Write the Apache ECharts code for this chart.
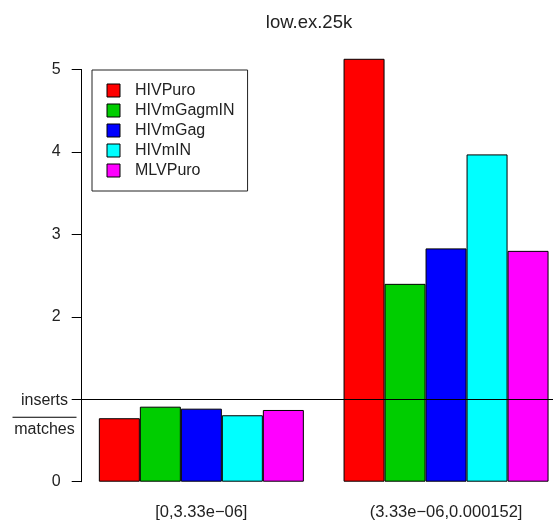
<!DOCTYPE html>
<html>
<head>
<meta charset="utf-8">
<script src="https://cdn.jsdelivr.net/npm/echarts@6/dist/echarts.min.js"></script>
<style>
  html, body { margin: 0; padding: 0; background: #fff; }
  #chart { width: 553px; height: 523px; }
</style>
</head>
<body>
<div id="chart"></div>
<script>
// Insert/match ratio per bin, one series per vector
const title = 'low.ex.25k';
const categories = ['[0,3.33e\u221206]', '(3.33e\u221206,0.000152]'];
const seriesNames = ['HIVPuro', 'HIVmGagmIN', 'HIVmGag', 'HIVmIN', 'MLVPuro'];
const seriesColors = ['#ff0000', '#00cd00', '#0000ff', '#00ffff', '#ff00ff'];
const HIVPuro    = [0.77, 5.13];
const HIVmGagmIN = [0.91, 2.40];
const HIVmGag    = [0.886, 2.83];
const HIVmIN     = [0.806, 3.97];
const MLVPuro    = [0.87, 2.80];
const seriesValues = [HIVPuro, HIVmGagmIN, HIVmGag, HIVmIN, MLVPuro];
const yTicks = [0, 1, 2, 3, 4, 5];
const refLevel = 1;
const fracTop = 'inserts';
const fracBottom = 'matches';

const FONT = '"Liberation Sans", Arial, sans-serif';
const TEXT = '#222';

const chart = echarts.init(document.getElementById('chart'), null, { renderer: 'canvas' });

const series = seriesNames.map((name, i) => ({
  name: name,
  type: 'bar',
  data: seriesValues[i],
  barWidth: 41,
  barGap: '0%',
  clip: false,
  itemStyle: { color: seriesColors[i], borderColor: '#000', borderWidth: 1 },
  emphasis: { disabled: true },
  silent: true
}));

// horizontal reference line at the ratio 1
series.push({
  type: 'line',
  data: [],
  z: 5,
  silent: true,
  markLine: {
    silent: true,
    symbol: ['none', 'none'],
    label: { show: false },
    lineStyle: { color: '#000', width: 1, type: 'solid' },
    emphasis: { disabled: true },
    data: [{ yAxis: refLevel }]
  }
});

chart.setOption({
  animation: false,
  backgroundColor: '#fff',
  textStyle: { fontFamily: FONT },
  title: {
    text: title,
    left: 304,
    top: 8,
    textAlign: 'center',
    textStyle: { fontFamily: FONT, fontSize: 18.5, fontWeight: 'normal', color: TEXT }
  },
  legend: {
    data: seriesNames,
    orient: 'vertical',
    left: 92,
    top: 70,
    padding: [12.5, 13, 12.5, 14.5],
    borderColor: '#222',
    borderWidth: 1,
    itemWidth: 13,
    itemHeight: 13,
    itemGap: 4,
    icon: 'rect',
    selectedMode: false,
    itemStyle: { borderColor: '#000', borderWidth: 1 },
    textStyle: { fontFamily: FONT, fontSize: 16, color: TEXT, lineHeight: 16, padding: [0, 0, 0, 10] }
  },
  // plot region runs past the right edge of the canvas
  grid: { left: 79, width: 489.4, top: 69.5, bottom: 41.3, containLabel: false, outerBoundsMode: 'none' },
  xAxis: {
    type: 'category',
    data: categories,
    axisLine: { show: false },
    axisTick: { show: false },
    axisLabel: { margin: 22, fontFamily: FONT, fontSize: 16.5, color: TEXT }
  },
  yAxis: {
    type: 'value',
    min: yTicks[0],
    max: yTicks[yTicks.length - 1],
    interval: 1,
    offset: -2.7,
    splitLine: { show: false },
    axisLine: { show: true, lineStyle: { color: '#000', width: 1 } },
    axisTick: { show: true, length: 10, lineStyle: { color: '#000', width: 1 } },
    axisLabel: {
      margin: 21,
      fontFamily: FONT,
      fontSize: 16,
      color: TEXT,
      formatter: v => (v === refLevel ? '' : String(v))
    }
  },
  series: series
});

// fraction label "inserts / matches" beside the tick at 1
const yRef = chart.convertToPixel({ yAxisIndex: 0 }, refLevel);
const cx = 44.5;
chart.setOption({
  graphic: [
    {
      type: 'text', silent: true,
      style: { text: fracTop, x: cx, y: yRef + 1.5, textAlign: 'center', textVerticalAlign: 'middle',
               font: '16px ' + FONT, fill: TEXT }
    },
    {
      type: 'line', silent: true,
      shape: { x1: 12.5, y1: yRef + 18, x2: 76.5, y2: yRef + 18 },
      style: { stroke: '#000', lineWidth: 1 }
    },
    {
      type: 'text', silent: true,
      style: { text: fracBottom, x: cx, y: yRef + 30, textAlign: 'center', textVerticalAlign: 'middle',
               font: '16px ' + FONT, fill: TEXT }
    }
  ]
});
</script>
</body>
</html>
